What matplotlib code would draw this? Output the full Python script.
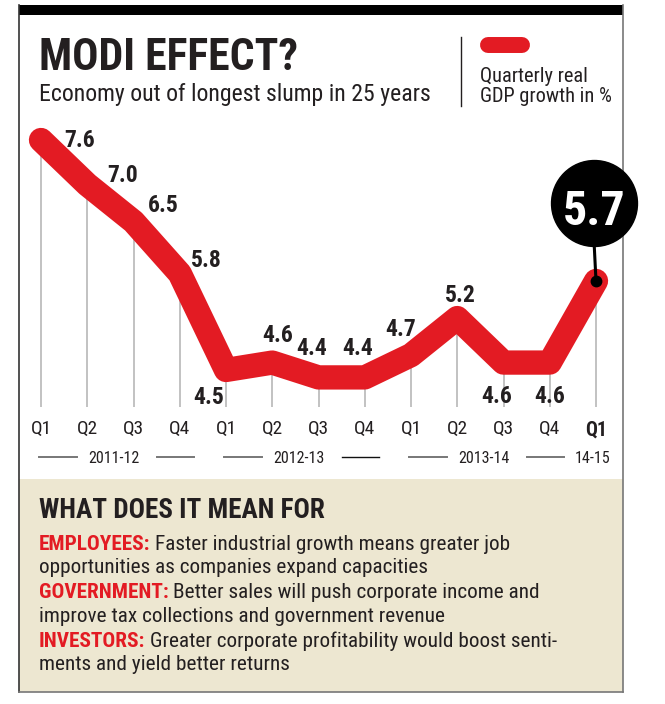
import glob
import os
import matplotlib
matplotlib.use("Agg")
import matplotlib.pyplot as plt
import matplotlib.transforms as mtransforms
import matplotlib.font_manager as fm
from matplotlib.patches import Rectangle

# data
quarters = ["Q1", "Q2", "Q3", "Q4", "Q1", "Q2", "Q3", "Q4", "Q1", "Q2", "Q3", "Q4", "Q1"]
growth = [7.6, 7.0, 6.5, 5.8, 4.5, 4.6, 4.4, 4.4, 4.7, 5.2, 4.6, 4.6, 5.7]
years = ["2011-12", "2012-13", "2013-14", "14-15"]
year_first = [0, 4, 8, 12]
year_last = [3, 7, 11, 12]

title = "MODI EFFECT?"
subtitle = "Economy out of longest slump in 25 years"
legend_lines = ["Quarterly real", "GDP growth in %"]
box_title = "WHAT DOES IT MEAN FOR"
notes = [
    ("EMPLOYEES:", "Faster industrial growth means greater job",
     "opportunities as companies expand capacities"),
    ("GOVERNMENT:", "Better sales will push corporate income and",
     "improve tax collections and government revenue"),
    ("INVESTORS:", "Greater corporate profitability would boost senti-",
     "ments and yield better returns"),
]

RED = "#e31b23"
INK = "#231f20"

# look for a narrow face, the paper uses a condensed one
font_files = [f.fname for f in fm.fontManager.ttflist]
for d in ["/usr/share/fonts", "/usr/local/share/fonts", os.path.expanduser("~/.fonts")]:
    font_files += glob.glob(d + "/**/*.ttf", recursive=True) + glob.glob(d + "/**/*.otf", recursive=True)
by_name = {}
for f in font_files:
    by_name.setdefault(os.path.basename(f).lower(), f)

def pick(bold):
    if bold:
        names = ["LiberationSansNarrow-Bold.ttf", "RobotoCondensed-Bold.ttf",
                 "Roboto_Condensed-Bold.ttf", "DejaVuSansCondensed-Bold.ttf"]
    else:
        names = ["LiberationSansNarrow-Regular.ttf", "RobotoCondensed-Regular.ttf",
                 "Roboto_Condensed-Regular.ttf", "DejaVuSansCondensed.ttf"]
    for n in names:
        if n.lower() in by_name:
            return fm.FontProperties(fname=by_name[n.lower()])
    return fm.FontProperties(family=["Roboto", "DejaVu Sans"], weight="bold" if bold else "normal")

REG = pick(False)
BOLD = pick(True)

W, H = 665, 704
fig = plt.figure(figsize=(W / 100, H / 100), dpi=100)
fig.patch.set_facecolor("white")
renderer = fig.canvas.get_renderer()

def fp(s, width, bold=False):
    # font properties sized so that s spans width pixels
    p = (BOLD if bold else REG).copy()
    p.set_size(10)
    w, _, _ = renderer.get_text_width_height_descent(s, p, ismath=False)
    p.set_size(10 * width / w)
    return p

# pixel-space layer for frame, headings and the text box
deco = fig.add_axes([0, 0, 1, 1])
deco.set_xlim(0, W)
deco.set_ylim(H, 0)
deco.axis("off")

deco.add_patch(Rectangle((19, 479), 604, 213, facecolor="#ede7d1", edgecolor="none"))
deco.add_patch(Rectangle((19, 5), 604, 10, facecolor="black", edgecolor="none"))
deco.plot([19, 19], [5, 692], color="#333333", lw=1.2)
deco.plot([623, 623], [5, 692], color="#777777", lw=1.2)
deco.plot([19, 623], [692, 692], color="#777777", lw=1.2)

deco.text(39, 70, title, fontproperties=fp(title, 258, True), color=INK)
deco.text(39, 101, subtitle, fontproperties=fp(subtitle, 389), color=INK)

deco.plot([461, 461], [37, 106], color=INK, lw=1)
deco.plot([488, 522], [45, 45], color=RED, lw=11.5, solid_capstyle="round")
leg_fp = fp(legend_lines[0], 107)
deco.text(480, 82, legend_lines[0], fontproperties=leg_fp, color=INK)
deco.text(480, 102, legend_lines[1], fontproperties=leg_fp, color=INK)

deco.text(39, 518, box_title, fontproperties=fp(box_title, 285, True), color=INK)

# body size from the first line: bold head + regular text = 468 px
hp = BOLD.copy(); hp.set_size(10)
rp = REG.copy(); rp.set_size(10)
w1 = renderer.get_text_width_height_descent(notes[0][0], hp, ismath=False)[0]
w2 = renderer.get_text_width_height_descent(" " + notes[0][1], rp, ismath=False)[0]
body = 10 * 468 / (w1 + w2)
hp.set_size(body)
rp.set_size(body)
base = 550
for head, first, second in notes:
    t = deco.text(39, base, head, fontproperties=hp, color=RED)
    deco.annotate(first, xy=(1, 0), xycoords=t, xytext=(body * 0.3, 0), textcoords="offset pixels",
                  va="bottom", ha="left", fontproperties=rp, color=INK)
    deco.text(39, base + 23, second, fontproperties=rp, color=INK)
    base += 48.5

# chart
ax = fig.add_axes([19 / W, 1 - 412 / H, 604 / W, 292 / H])
ax.set_facecolor("none")
px_x = 46.25
px_y = 74.19
ax.set_xlim((19 - 41) / px_x, (623 - 41) / px_x)
ax.set_ylim(7.6 - (412 - 140) / px_y, 7.6 + (140 - 120) / px_y)
for s in ax.spines.values():
    s.set_visible(False)
ax.set_yticks([])

x = list(range(len(growth)))
ax.vlines(x, 4.0, growth, color="#bdbdbd", lw=1.3, zorder=1)
ax.plot(x, growth, color=RED, lw=17.5, solid_capstyle="round",
        solid_joinstyle="round", zorder=2)

ax.set_xticks(x)
ax.set_xticklabels(quarters, color=INK)
q_fp = fp("Q1", 21)
q_bold = fp("Q1", 22, True)
for lab in ax.get_xticklabels():
    lab.set_fontproperties(q_fp)
ax.get_xticklabels()[-1].set_fontproperties(q_bold)
ax.tick_params(axis="x", length=0, pad=6)

val_fp = fp("7.6", 31, True)
label_offsets = [(39, -7), (35, 3), (30, 10), (27, 7), (-17, -34), (5, 21),
                 (-7, 22), (-7, 22), (-10, 19), (3, 16), (-7, -40), (0, -40)]
for i, (v, off) in enumerate(zip(growth[:-1], label_offsets)):
    ax.annotate(f"{v:.1f}", xy=(i, v), xytext=off, textcoords="offset pixels",
                ha="center", va="baseline", fontproperties=val_fp, color=INK, zorder=4)

# highlighted latest value
last = len(growth) - 1
bubble = mtransforms.offset_copy(ax.transData, fig=fig, x=-2, y=78, units="dots")
ax.annotate("", xy=(last, growth[last]), xytext=(-2, 40), textcoords="offset pixels",
            arrowprops=dict(arrowstyle="-", lw=2.2, color="black", shrinkA=0, shrinkB=0),
            zorder=5)
ax.plot(last, growth[last], "o", color="black", ms=7.5, zorder=6)
ax.scatter([last], [growth[last]], s=3830, color="black", transform=bubble,
           zorder=7, clip_on=False)
big = f"{growth[last]:.1f}"
ax.annotate(big, xy=(last, growth[last]), xytext=(-2, 56),
            textcoords="offset pixels", ha="center", va="baseline",
            fontproperties=fp(big, 63, True), color="white", zorder=8,
            annotation_clip=False)

# fiscal-year labels under the quarters
yr_fp = fp("2011-12", 51)
below = mtransforms.blended_transform_factory(ax.transData, ax.transAxes) + \
    mtransforms.ScaledTranslation(0, -45 / 100, fig.dpi_scale_trans)
for name, a, b in zip(years, year_first, year_last):
    cx = (a + b) / 2 + 0.08 if a != b else b - 0.08
    ax.annotate(name, xy=(cx, 0), xycoords=("data", "axes fraction"), xytext=(0, -51),
                textcoords="offset pixels", ha="center", va="baseline",
                fontproperties=yr_fp, color=INK, annotation_clip=False)
    if a != b:
        dash_color = "#111111" if name == "2012-13" else "#777777"
        ax.plot([a - 0.05, a + 0.78], [0, 0], color="#777777", lw=1.4,
                transform=below, clip_on=False)
        ax.plot([b - 0.5, b + 0.3], [0, 0], color=dash_color,
                lw=1.0 if name == "2012-13" else 1.4, transform=below, clip_on=False)

fig.savefig("out.png", dpi=100)
